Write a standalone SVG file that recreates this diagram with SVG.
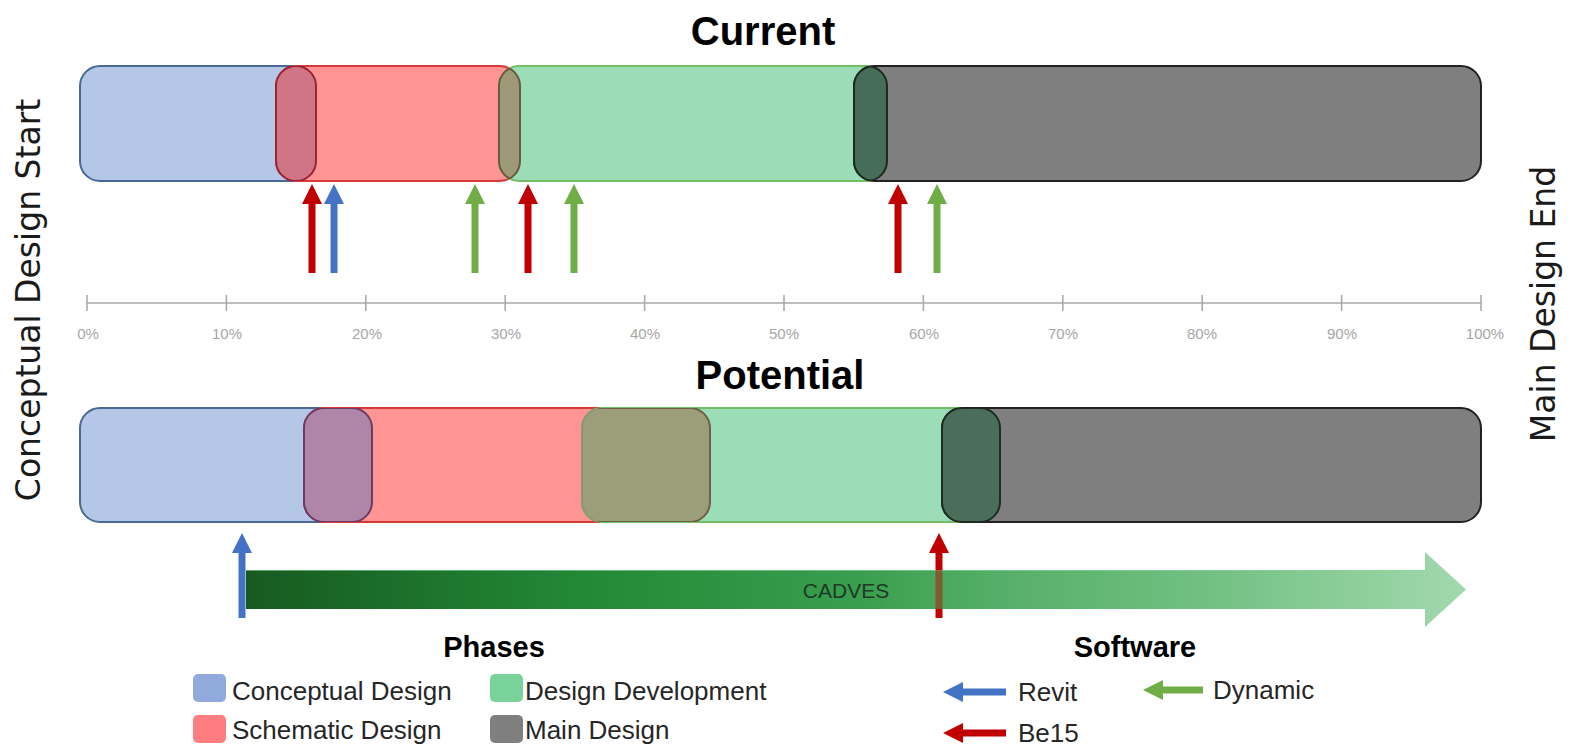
<svg xmlns="http://www.w3.org/2000/svg" width="1573" height="745" viewBox="0 0 1573 745">
<style>
.title{font-family:"Liberation Sans",Arial,sans-serif;font-weight:bold;font-size:40px;fill:#000;text-anchor:middle}
.side{font-family:"DejaVu Sans",Verdana,sans-serif;font-size:33px;fill:#1a1a1a;text-anchor:middle}
.axis{stroke:#BFBFBF;stroke-width:2}
.tick{stroke:#A6A6A6;stroke-width:1.5}
.axl{font-family:"Liberation Sans",Arial,sans-serif;font-size:15px;fill:#A6A6A6;text-anchor:middle}
.pA{fill:#B4C7E7;stroke:#4A6894;stroke-width:2}
.pB{fill:#FF9494;stroke:#D83A3A;stroke-width:2}
.pC{fill:#9ADDB6;stroke:#72BE62;stroke-width:2}
.pD{fill:#7F7F7F;stroke:#222222;stroke-width:2}
.arr{stroke-width:7;fill:none}
.red{stroke:#C00000}
.blue{stroke:#4472C4}
.green{stroke:#70AD47}
.leg{font-family:"Liberation Sans",Arial,sans-serif;font-size:26px;fill:#262626}
.hdr{font-family:"Liberation Sans",Arial,sans-serif;font-size:29px;font-weight:bold;fill:#000;text-anchor:middle}
.sw{stroke:none}
</style>
<defs>
<marker id="mRed" viewBox="0 -10 20 20" refX="1" refY="0" markerWidth="20" markerHeight="20" markerUnits="userSpaceOnUse" orient="auto"><path d="M0,-10 L20,0 L0,10 z" fill="#C00000"/></marker>
<marker id="mBlue" viewBox="0 -10 20 20" refX="1" refY="0" markerWidth="20" markerHeight="20" markerUnits="userSpaceOnUse" orient="auto"><path d="M0,-10 L20,0 L0,10 z" fill="#4472C4"/></marker>
<marker id="mGreen" viewBox="0 -10 20 20" refX="1" refY="0" markerWidth="20" markerHeight="20" markerUnits="userSpaceOnUse" orient="auto"><path d="M0,-10 L20,0 L0,10 z" fill="#70AD47"/></marker>
<linearGradient id="gBand" gradientUnits="userSpaceOnUse" x1="246" y1="0" x2="1466" y2="0">
<stop offset="0" stop-color="#175A20"/>
<stop offset="0.27" stop-color="#228836"/>
<stop offset="0.5" stop-color="#399E4D"/>
<stop offset="0.62" stop-color="#56AF68"/>
<stop offset="0.8" stop-color="#74C284"/>
<stop offset="1" stop-color="#A3D8AE"/>
</linearGradient>
<clipPath id="cTA"><rect x="80" y="66" width="236" height="115" rx="20" ry="20"/></clipPath>
<clipPath id="cTB"><rect x="276" y="66" width="244" height="115" rx="20" ry="20"/></clipPath>
<clipPath id="cTC"><rect x="499" y="66" width="388" height="115" rx="20" ry="20"/></clipPath>
<clipPath id="cTD"><rect x="854" y="66" width="627" height="115" rx="20" ry="20"/></clipPath>
<clipPath id="cBA"><rect x="80" y="408" width="292" height="114" rx="20" ry="20"/></clipPath>
<clipPath id="cBB"><rect x="304" y="408" width="406" height="114" rx="20" ry="20"/></clipPath>
<clipPath id="cBC"><rect x="582" y="408" width="418" height="114" rx="20" ry="20"/></clipPath>
<clipPath id="cBD"><rect x="942" y="408" width="539" height="114" rx="20" ry="20"/></clipPath>
</defs>
<rect width="1573" height="745" fill="#FFFFFF"/>

<text class="title" x="763" y="45">Current</text>
<text class="title" x="780" y="389">Potential</text>
<text class="side" transform="translate(40,300) rotate(-90)">Conceptual Design Start</text>
<text class="side" transform="translate(1555,304) rotate(-90)">Main Design End</text>

<g id="current-bar">
<rect id="cur-conceptual" class="pA" x="80" y="66" width="236" height="115" rx="20" ry="20"/>
<rect id="cur-schematic" class="pB" x="276" y="66" width="244" height="115" rx="20" ry="20"/>
<rect id="cur-development" class="pC" x="499" y="66" width="388" height="115" rx="20" ry="20"/>
<rect id="cur-main" class="pD" x="854" y="66" width="627" height="115" rx="20" ry="20"/>
<g clip-path="url(#cTA)"><rect x="276" y="66" width="244" height="115" rx="20" ry="20" fill="#D07585" stroke="#9B2335" stroke-width="2"/></g>
<g clip-path="url(#cTB)"><rect x="80" y="66" width="236" height="115" rx="20" ry="20" fill="none" stroke="#9B2335" stroke-width="2"/></g>
<g clip-path="url(#cTB)"><rect x="499" y="66" width="388" height="115" rx="20" ry="20" fill="#9E9A79" stroke="#6A5A40" stroke-width="2"/></g>
<g clip-path="url(#cTC)"><rect x="276" y="66" width="244" height="115" rx="20" ry="20" fill="none" stroke="#6A5A40" stroke-width="2"/></g>
<g clip-path="url(#cTC)"><rect x="854" y="66" width="627" height="115" rx="20" ry="20" fill="#466D57" stroke="#1C2A21" stroke-width="2"/></g>
<g clip-path="url(#cTD)"><rect x="499" y="66" width="388" height="115" rx="20" ry="20" fill="none" stroke="#1C2A21" stroke-width="2"/></g>
</g>

<g id="potential-bar">
<rect id="pot-conceptual" class="pA" x="80" y="408" width="292" height="114" rx="20" ry="20"/>
<rect id="pot-schematic" class="pB" x="304" y="408" width="406" height="114" rx="20" ry="20"/>
<rect id="pot-development" class="pC" x="582" y="408" width="418" height="114" rx="20" ry="20"/>
<rect id="pot-main" class="pD" x="942" y="408" width="539" height="114" rx="20" ry="20"/>
<g clip-path="url(#cBA)"><rect x="304" y="408" width="406" height="114" rx="20" ry="20" fill="#B086A8" stroke="#6D3B63" stroke-width="2"/></g>
<g clip-path="url(#cBB)"><rect x="80" y="408" width="292" height="114" rx="20" ry="20" fill="none" stroke="#6D3B63" stroke-width="2"/></g>
<g clip-path="url(#cBB)"><rect x="582" y="408" width="418" height="114" rx="20" ry="20" fill="#9C9E7A" stroke="#8A9A6A" stroke-width="2"/></g>
<g clip-path="url(#cBC)"><rect x="304" y="408" width="406" height="114" rx="20" ry="20" fill="none" stroke="#6E6048" stroke-width="2"/></g>
<g clip-path="url(#cBC)"><rect x="942" y="408" width="539" height="114" rx="20" ry="20" fill="#4A6E5A" stroke="#1C2D22" stroke-width="2"/></g>
<g clip-path="url(#cBD)"><rect x="582" y="408" width="418" height="114" rx="20" ry="20" fill="none" stroke="#1C2D22" stroke-width="2"/></g>
</g>

<g id="axis">
<line class="axis" x1="87" y1="303" x2="1481" y2="303"/>
<line class="tick" x1="87" y1="295" x2="87" y2="311"/>
<line class="tick" x1="226.4" y1="295" x2="226.4" y2="311"/>
<line class="tick" x1="365.8" y1="295" x2="365.8" y2="311"/>
<line class="tick" x1="505.2" y1="295" x2="505.2" y2="311"/>
<line class="tick" x1="644.6" y1="295" x2="644.6" y2="311"/>
<line class="tick" x1="784" y1="295" x2="784" y2="311"/>
<line class="tick" x1="923.4" y1="295" x2="923.4" y2="311"/>
<line class="tick" x1="1062.8" y1="295" x2="1062.8" y2="311"/>
<line class="tick" x1="1202.2" y1="295" x2="1202.2" y2="311"/>
<line class="tick" x1="1341.6" y1="295" x2="1341.6" y2="311"/>
<line class="tick" x1="1481" y1="295" x2="1481" y2="311"/>
<text class="axl" x="88" y="339">0%</text>
<text class="axl" x="227" y="339">10%</text>
<text class="axl" x="367" y="339">20%</text>
<text class="axl" x="506" y="339">30%</text>
<text class="axl" x="645" y="339">40%</text>
<text class="axl" x="784" y="339">50%</text>
<text class="axl" x="924" y="339">60%</text>
<text class="axl" x="1063" y="339">70%</text>
<text class="axl" x="1202" y="339">80%</text>
<text class="axl" x="1342" y="339">90%</text>
<text class="axl" x="1485" y="339">100%</text>
</g>

<g id="connectors">
<line class="arr red" x1="312" y1="273" x2="312" y2="203" marker-end="url(#mRed)"/>
<line class="arr blue" x1="334" y1="273" x2="334" y2="203" marker-end="url(#mBlue)"/>
<line class="arr green" x1="475" y1="273" x2="475" y2="203" marker-end="url(#mGreen)"/>
<line class="arr red" x1="528" y1="273" x2="528" y2="203" marker-end="url(#mRed)"/>
<line class="arr green" x1="574" y1="273" x2="574" y2="203" marker-end="url(#mGreen)"/>
<line class="arr red" x1="898" y1="273" x2="898" y2="203" marker-end="url(#mRed)"/>
<line class="arr green" x1="937" y1="273" x2="937" y2="203" marker-end="url(#mGreen)"/>
<line class="arr red" x1="939" y1="618" x2="939" y2="552" marker-end="url(#mRed)"/>
</g>

<g id="cadves">
<path d="M246,570 L1425,570 L1425,552 L1466,589.5 L1425,627 L1425,609 L246,609 Z" fill="url(#gBand)"/>
<line x1="246" y1="570.5" x2="1425" y2="570.5" stroke="#8ED49A" stroke-width="1" opacity="0.6"/>
<text x="846" y="598" font-family="Liberation Sans, Arial, sans-serif" font-size="21" fill="#1E3A24" text-anchor="middle">CADVES</text>
</g>

<g id="connectors-overlay">
<line x1="939" y1="570" x2="939" y2="609" stroke="#C00000" stroke-width="7" opacity="0.45"/>
<line class="arr blue" x1="242" y1="618" x2="242" y2="552" marker-end="url(#mBlue)"/>
</g>

<g id="legend-phases">
<text class="hdr" x="494" y="657">Phases</text>
<rect class="sw" x="193" y="674" width="33" height="28" rx="5" fill="#8FAADC"/>
<text class="leg" x="232" y="700">Conceptual Design</text>
<rect class="sw" x="193" y="715" width="33" height="28" rx="5" fill="#FF7C80"/>
<text class="leg" x="232" y="739">Schematic Design</text>
<rect class="sw" x="490" y="674" width="33" height="28" rx="5" fill="#78D29A"/>
<text class="leg" x="525" y="700">Design Development</text>
<rect class="sw" x="490" y="715" width="33" height="28" rx="5" fill="#7F7F7F"/>
<text class="leg" x="525" y="739">Main Design</text>
</g>

<g id="legend-software">
<text class="hdr" x="1135" y="657">Software</text>
<line class="arr blue" x1="1006" y1="692" x2="962" y2="692" marker-end="url(#mBlue)"/>
<text class="leg" x="1018" y="701">Revit</text>
<line class="arr green" x1="1203" y1="690" x2="1162" y2="690" marker-end="url(#mGreen)"/>
<text class="leg" x="1213" y="699">Dynamic</text>
<line class="arr red" x1="1006" y1="733" x2="962" y2="733" marker-end="url(#mRed)"/>
<text class="leg" x="1018" y="742">Be15</text>
</g>
</svg>
